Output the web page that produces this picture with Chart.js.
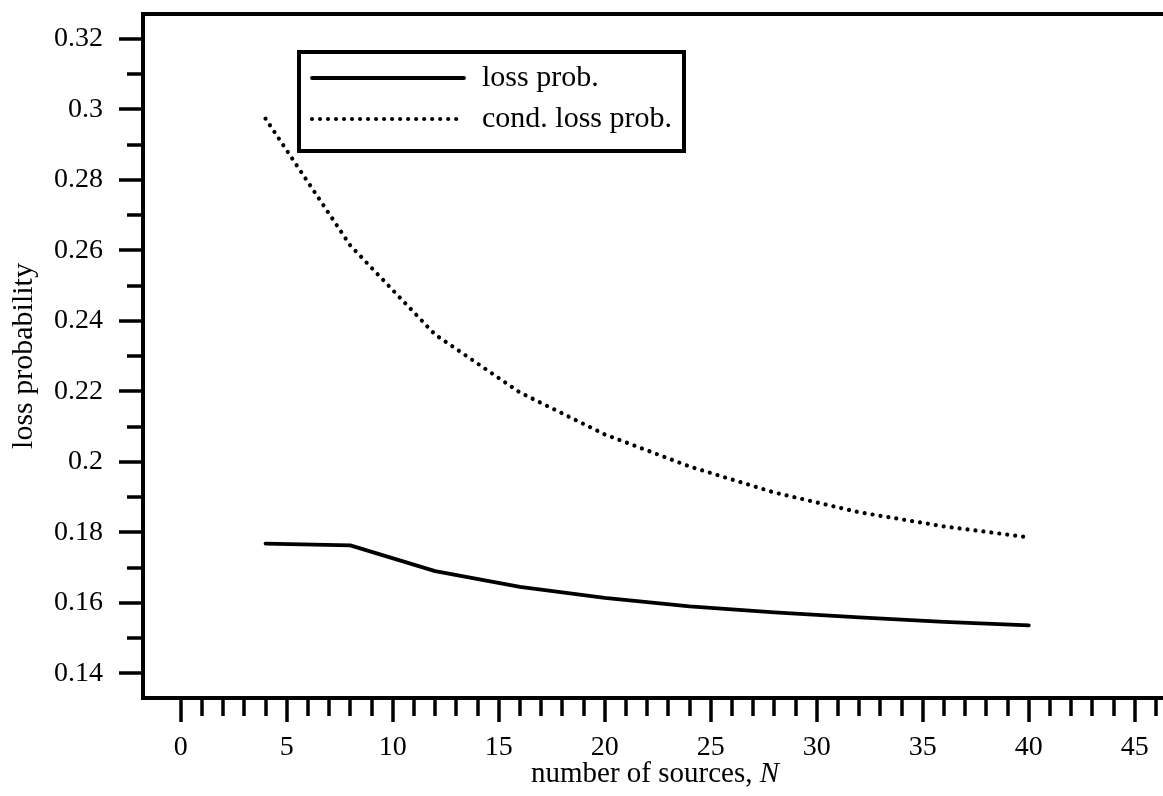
<!DOCTYPE html>
<html>
<head>
<meta charset="utf-8">
<script src="https://cdn.jsdelivr.net/npm/chart.js@4.4.1/dist/chart.umd.min.js"></script>
<style>
  html, body { margin: 0; padding: 0; background: #fff; overflow: hidden; }
  canvas { display: block; }
</style>
</head>
<body>
<canvas id="lossChart" width="1163" height="796"></canvas>
<script>
// values
const nSources = [4, 8, 12, 16, 20, 24, 28, 32, 36, 40];
const lossProb = [0.1768, 0.1763, 0.1690, 0.1645, 0.1614, 0.1590, 0.1573, 0.1559, 0.1546, 0.1536];
const condLossProb = [0.2974, 0.2614, 0.2361, 0.2197, 0.2078, 0.1987, 0.1913, 0.1857, 0.1817, 0.1786];

const xTickValues = [0, 5, 10, 15, 20, 25, 30, 35, 40, 45];
const xTickLabels = ['0', '5', '10', '15', '20', '25', '30', '35', '40', '45'];
const yTickValues = [0.14, 0.16, 0.18, 0.20, 0.22, 0.24, 0.26, 0.28, 0.30, 0.32];
const yTickLabels = ['0.14', '0.16', '0.18', '0.2', '0.22', '0.24', '0.26', '0.28', '0.3', '0.32'];

const seriesLabels = ['loss prob.', 'cond. loss prob.'];
const xTitle = 'number of sources, ';
const xTitleVar = 'N';
const yTitle = 'loss probability';

const FONT = 'Liberation Serif';
const INK = '#000';

function toPoints(xs, ys) {
    return xs.map((x, i) => ({ x: x, y: ys[i] }));
}

// frame, minor/major tick marks, legend box and x title
const decorPlugin = {
    id: 'decor',
    afterDraw(chart) {
        const { ctx, chartArea: a, scales } = chart;
        const xs = scales.x, ys = scales.y;
        ctx.save();
        ctx.strokeStyle = INK;
        ctx.lineCap = 'butt';

        // frame (right side runs off the page)
        ctx.lineWidth = 4;
        ctx.beginPath();
        ctx.moveTo(chart.width + 2, a.top);
        ctx.lineTo(a.left, a.top);
        ctx.lineTo(a.left, a.bottom);
        ctx.lineTo(chart.width + 2, a.bottom);
        ctx.stroke();

        // y ticks every 0.01, long ones on labelled values
        ctx.lineWidth = 3.5;
        for (let i = 14; i <= 32; i++) {
            const py = Math.round(ys.getPixelForValue(i / 100));
            const len = i % 2 === 0 ? 24 : 16;
            ctx.beginPath();
            ctx.moveTo(a.left - len, py);
            ctx.lineTo(a.left, py);
            ctx.stroke();
        }
        // x ticks every unit
        for (let n = 0; n <= 46; n++) {
            const px = Math.round(xs.getPixelForValue(n));
            const len = n % 5 === 0 ? 24 : 18;
            ctx.beginPath();
            ctx.moveTo(px, a.bottom);
            ctx.lineTo(px, a.bottom + len);
            ctx.stroke();
        }

        // legend
        ctx.lineWidth = 4;
        ctx.strokeRect(299, 52, 385, 99);
        const rows = [78, 119];
        chart.data.datasets.forEach((ds, i) => {
            ctx.save();
            ctx.lineWidth = ds.borderWidth;
            ctx.lineCap = ds.borderCapStyle || 'butt';
            ctx.setLineDash(ds.borderDash || []);
            ctx.beginPath();
            ctx.moveTo(312, rows[i]);
            ctx.lineTo(464, rows[i]);
            ctx.stroke();
            ctx.restore();
            ctx.fillStyle = INK;
            ctx.font = '30px "' + FONT + '"';
            ctx.textBaseline = 'alphabetic';
            ctx.textAlign = 'left';
            ctx.fillText(ds.label, 482, rows[i] + 8);
        });

        // x title with italic N
        ctx.fillStyle = INK;
        ctx.textBaseline = 'alphabetic';
        ctx.textAlign = 'left';
        ctx.font = '29px "' + FONT + '"';
        const w1 = ctx.measureText(xTitle).width;
        ctx.font = 'italic 29px "' + FONT + '"';
        const w2 = ctx.measureText(xTitleVar).width;
        const x0 = 655 - (w1 + w2) / 2;
        ctx.font = '29px "' + FONT + '"';
        ctx.fillText(xTitle, x0, 782);
        ctx.font = 'italic 29px "' + FONT + '"';
        ctx.fillText(xTitleVar, x0 + w1, 782);
        ctx.restore();
    }
};

const ctx = document.getElementById('lossChart').getContext('2d');
const lossChart = new Chart(ctx, {
    type: 'line',
    data: {
        datasets: [{
            label: seriesLabels[0],
            data: toPoints(nSources, lossProb),
            borderColor: INK,
            borderWidth: 3.8,
            borderCapStyle: 'round',
            borderJoinStyle: 'round',
            pointRadius: 0,
            fill: false,
            tension: 0
        }, {
            label: seriesLabels[1],
            data: toPoints(nSources, condLossProb),
            borderColor: INK,
            borderWidth: 4.2,
            borderDash: [0.01, 8],
            borderCapStyle: 'round',
            pointRadius: 0,
            fill: false,
            tension: 0
        }]
    },
    options: {
        responsive: false,
        animation: false,
        devicePixelRatio: 1,
        layout: { padding: { top: 14, left: 0, right: 0, bottom: 0 } },
        plugins: { legend: { display: false }, tooltip: { enabled: false } },
        scales: {
            x: {
                type: 'linear',
                min: -1.778,
                max: 46.33,
                grid: { display: false, drawTicks: false },
                border: { display: false },
                afterBuildTicks: s => { s.ticks = xTickValues.map(v => ({ value: v })); },
                afterFit: s => { s.height = 98; s.paddingLeft = 0; s.paddingRight = 0; },
                ticks: {
                    autoSkip: false, maxRotation: 0, minRotation: 0, padding: 33,
                    color: INK, font: { family: FONT, size: 28 },
                    callback: (v, i) => xTickLabels[i]
                }
            },
            y: {
                type: 'linear',
                min: 0.13300,
                max: 0.32709,
                grid: { display: false, drawTicks: false },
                border: { display: false },
                afterBuildTicks: s => { s.ticks = yTickValues.map(v => ({ value: v })); },
                afterFit: s => { s.width = 143; s.paddingTop = 0; s.paddingBottom = 0; },
                ticks: {
                    autoSkip: false, padding: 40,
                    color: INK, font: { family: FONT, size: 28 },
                    callback: (v, i) => yTickLabels[i]
                },
                title: {
                    display: true, text: yTitle, color: INK,
                    font: { family: FONT, size: 30 },
                    padding: { top: 6, bottom: 0 }
                }
            }
        }
    },
    plugins: [decorPlugin]
});
</script>
</body>
</html>
